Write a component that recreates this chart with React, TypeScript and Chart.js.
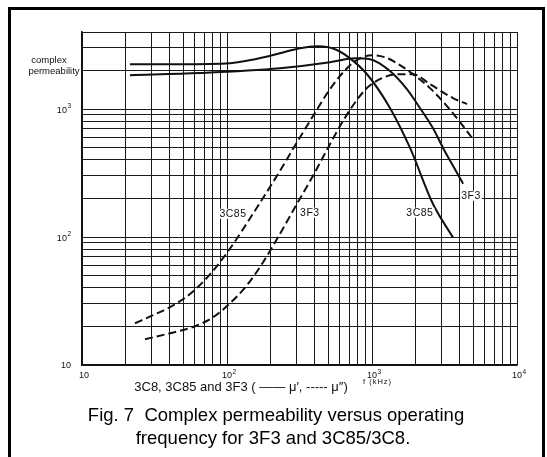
import React, { useEffect, useRef } from "react";
import { Chart, registerables } from "chart.js";

Chart.register(...registerables);

const FONT = "'Liberation Sans', Arial, Helvetica, sans-serif";

// grid (tick) values
const xGridValues = [10, 20, 30, 40, 50, 60, 70, 80, 90, 100, 200, 300, 400, 500, 600, 700, 800, 900, 1000, 2000, 3000, 4000, 5000, 6000, 7000, 8000, 9000, 10000];
const yGridValues = [10, 20, 30, 40, 50, 60, 70, 80, 90, 100, 200, 300, 400, 500, 600, 700, 800, 900, 1000, 2000, 3000, 4000];

// tick labels (10 with superscript exponent)
const xLabelValues = [10, 100, 1000, 10000];
const xLabelExps = ["", "2", "3", "4"];
const yLabelValues = [10, 100, 1000];
const yLabelExps = ["", "2", "3"];

// 3C85 mu' (solid)
const freq3C85Real = [21.4, 47.4, 105, 156, 232, 319, 424, 556, 705, 924, 1330, 1830, 2630, 3620];
const mu3C85Real = [2240, 2240, 2280, 2450, 2730, 2990, 3090, 2930, 2490, 1870, 1020, 497, 182, 99];

// 3F3 mu' (solid)
const freq3F3Real = [21.4, 65.2, 232, 513, 764, 969, 1330, 1740, 2140, 2630, 3090, 3620, 4250];
const mu3F3Real = [1840, 1910, 2080, 2320, 2490, 2450, 1980, 1430, 1020, 711, 497, 360, 261];

// 3C85 mu'' (dashed)
const freq3C85Imag = [23.2, 30.9, 43.8, 57.4, 76.3, 105, 151, 232, 299, 392, 513, 672, 826, 1016, 1229, 1487, 1918, 2512, 3290, 4045, 4895];
const mu3C85Imag = [21.2, 24.5, 29.8, 37.0, 51.1, 81.4, 152, 329, 534, 882, 1431, 2085, 2494, 2632, 2539, 2280, 1873, 1457, 1055, 792, 595];

// 3F3 mu'' (dashed)
const freq3F3Imag = [27.2, 40.4, 60.2, 80.1, 105, 137, 177, 232, 304, 392, 497, 631, 776, 938, 1172, 1487, 1918, 2512, 3620, 4520];
const mu3F3Imag = [15.9, 17.7, 20.1, 23.6, 30.4, 41.9, 63.3, 106, 182, 301, 497, 806, 1154, 1484, 1743, 1873, 1873, 1565, 1218, 1094];

// curve labels
const curveLabelTexts = ["3C85", "3F3", "3C85", "3F3"];
const curveLabelFreq = [110, 373, 2140, 4820];
const curveLabelMu = [152, 155, 155, 210];

const toPoints = (xs: number[], ys: number[]) => xs.map((x, i) => ({ x, y: ys[i] }));

const drawPow = (ctx: CanvasRenderingContext2D, exp: string, x: number, y: number, align: "right" | "center") => {
  ctx.font = `9px ${FONT}`;
  const w10 = ctx.measureText("10").width;
  ctx.font = `6.5px ${FONT}`;
  const wE = exp ? ctx.measureText(exp).width + 0.5 : 0;
  const total = w10 + wE;
  const start = align === "right" ? x - total : x - total / 2;
  ctx.textAlign = "left";
  ctx.textBaseline = "middle";
  ctx.font = `9px ${FONT}`;
  ctx.fillText("10", start, y);
  if (exp) {
    ctx.font = `6.5px ${FONT}`;
    ctx.fillText(exp, start + w10 + 0.5, y - 4);
  }
};

const textPlugin = {
  id: "textPlugin",
  afterDatasetsDraw(chart: any) {
    const ctx: CanvasRenderingContext2D = chart.ctx;
    const xs = chart.scales.x;
    const ys = chart.scales.y;
    ctx.save();
    ctx.font = `10.5px ${FONT}`;
    (ctx as any).letterSpacing = "0.5px";
    ctx.textAlign = "center";
    ctx.textBaseline = "middle";
    curveLabelTexts.forEach((t, i) => {
      const px = xs.getPixelForValue(curveLabelFreq[i]);
      const py = ys.getPixelForValue(curveLabelMu[i]);
      const w = ctx.measureText(t).width;
      ctx.fillStyle = "#fff";
      ctx.fillRect(px - w / 2 - 1, py - 5, w + 2, 10);
      ctx.fillStyle = "#111";
      ctx.fillText(t, px, py);
    });
    (ctx as any).letterSpacing = "0px";
    ctx.restore();
  },
  afterDraw(chart: any) {
    const ctx: CanvasRenderingContext2D = chart.ctx;
    const xs = chart.scales.x;
    const ys = chart.scales.y;
    const area = chart.chartArea;
    ctx.save();
    ctx.fillStyle = "#111";
    yLabelValues.forEach((v, i) => {
      drawPow(ctx, yLabelExps[i], area.left - 11, ys.getPixelForValue(v) + 1, "right");
    });
    xLabelValues.forEach((v, i) => {
      drawPow(ctx, xLabelExps[i], xs.getPixelForValue(v) + 2, area.bottom + 11, "center");
    });
    ctx.font = `9.5px ${FONT}`;
    ctx.textAlign = "center";
    ctx.textBaseline = "middle";
    ctx.fillText("complex", 49, 60);
    ctx.fillText("permeability", 54, 71);
    ctx.font = `13px ${FONT}`;
    ctx.textAlign = "center";
    ctx.fillText("3C8, 3C85 and 3F3 ( —— μ′, ----- μ″)", 241, 387);
    ctx.font = `7.5px ${FONT}`;
    (ctx as any).letterSpacing = "1px";
    ctx.textAlign = "left";
    ctx.fillText("f (kHz)", 363, 382);
    (ctx as any).letterSpacing = "0px";
    ctx.fillStyle = "#000";
    ctx.font = `18.5px ${FONT}`;
    ctx.textAlign = "center";
    ctx.textBaseline = "alphabetic";
    ctx.fillText("Fig. 7  Complex permeability versus operating", 276, 421);
    ctx.fillText("frequency for 3F3 and 3C85/3C8.", 273, 444);
    ctx.restore();
  },
};

export default function App() {
  const canvasRef = useRef<HTMLCanvasElement | null>(null);

  useEffect(() => {
    if (!canvasRef.current) return;
    const solid = { borderColor: "#111", borderWidth: 2, pointRadius: 0, cubicInterpolationMode: "monotone", fill: false };
    const dashed = { ...solid, borderDash: [8, 4] };
    const gridOpts = { color: "#1a1a1a", lineWidth: 1, drawTicks: false };
    const chart = new Chart(canvasRef.current, {
      type: "line",
      data: {
        datasets: [
          { label: "3C85 μ′", data: toPoints(freq3C85Real, mu3C85Real), ...solid },
          { label: "3F3 μ′", data: toPoints(freq3F3Real, mu3F3Real), ...solid },
          { label: "3C85 μ″", data: toPoints(freq3C85Imag, mu3C85Imag), ...dashed },
          { label: "3F3 μ″", data: toPoints(freq3F3Imag, mu3F3Imag), ...dashed },
        ] as any,
      },
      options: {
        animation: false,
        responsive: false,
        devicePixelRatio: 1,
        layout: { padding: { left: 82, top: 32, right: 30, bottom: 92 } },
        plugins: {
          legend: { display: false },
          tooltip: { enabled: false },
          title: { display: false },
        },
        scales: {
          x: {
            type: "logarithmic",
            min: 10,
            max: 10000,
            afterBuildTicks: (s: any) => {
              s.ticks = xGridValues.map((value) => ({ value }));
            },
            ticks: { display: false },
            grid: gridOpts,
            border: { display: true, color: "#111", width: 1.5 },
          },
          y: {
            type: "logarithmic",
            min: 10,
            max: 4000,
            afterBuildTicks: (s: any) => {
              s.ticks = yGridValues.map((value) => ({ value }));
            },
            ticks: { display: false },
            grid: gridOpts,
            border: { display: true, color: "#111", width: 1.5 },
          },
        },
      } as any,
      plugins: [textPlugin],
    });
    return () => chart.destroy();
  }, []);

  return (
    <div style={{ position: "fixed", left: 0, top: 0, width: 547, height: 457, background: "#fff", overflow: "hidden" }}>
      <canvas ref={canvasRef} width={547} height={457} style={{ position: "absolute", left: 0, top: 0, width: 547, height: 457 }} />
      <div
        style={{
          position: "absolute",
          left: 8,
          top: 7,
          width: 537,
          height: 470,
          border: "3px solid #000",
          boxSizing: "border-box",
          pointerEvents: "none",
        }}
      />
    </div>
  );
}
